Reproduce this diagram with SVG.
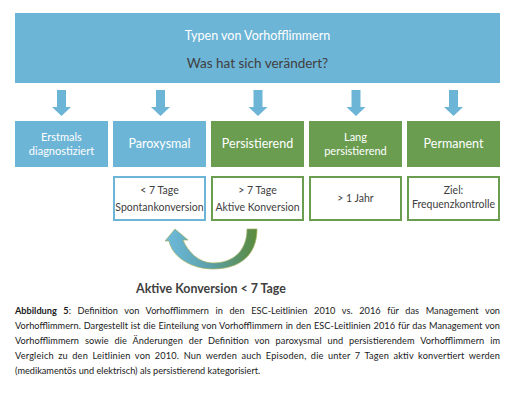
<svg xmlns="http://www.w3.org/2000/svg" width="513" height="400" viewBox="0 0 513 400">
<style>
.blue{fill:#6db5d6}
.green{fill:#6a9d50}
.wt{font-family:Lato,"Open Sans",sans-serif;fill:#ffffff;text-anchor:middle}
.dt{font-family:Lato,"Open Sans",sans-serif;fill:#404040;text-anchor:middle}
.bb{fill:#ffffff;stroke:#6db5d6;stroke-width:2}
.gb{fill:#ffffff;stroke:#6a9d50;stroke-width:2}
.cap{font-family:Lato,"Open Sans",sans-serif;font-size:9.2px;fill:#1a1a1a}
</style>
<defs>
<path id="dn" d="M-4.5,0 h9 v17 h5 l-9.5,9 l-9.5,-9 h5 z" fill="#6db5d6"/>
<linearGradient id="cg" x1="0" y1="0" x2="1" y2="0">
<stop offset="0" stop-color="#6dbbde"/>
<stop offset="0.5" stop-color="#5b9fa8"/>
<stop offset="1" stop-color="#5a8a3a"/>
</linearGradient>
</defs>
<rect width="513" height="400" fill="#ffffff"/>
<g id="header">
<rect class="blue" x="15" y="13" width="485" height="70"/>
<text class="wt" x="257.5" y="40" font-size="12.5">Typen von Vorhofflimmern</text>
<text class="dt" x="257.5" y="68" font-size="13.5">Was hat sich verändert?</text>
</g>
<g id="connectors">
<use href="#dn" x="61.5" y="90"/>
<use href="#dn" x="160.5" y="90"/>
<use href="#dn" x="258" y="90"/>
<use href="#dn" x="356" y="90"/>
<use href="#dn" x="453.5" y="90"/>
<path d="M257,229 C257,255 240,269 213,269 C190,269 172,256 169,241 L165,241 L175,229 L188,240 L183,240 C188,252 199,263 213,263 C232,263 247,252 247,229 Z" fill="url(#cg)" stroke="#a3b060" stroke-width="0.7"/>
</g>
<g id="erstmals">
<rect class="blue" x="15" y="121" width="93" height="46"/>
<text class="wt" x="61.5" y="141" font-size="11">Erstmals</text>
<text class="wt" x="61.5" y="155" font-size="11">diagnostiziert</text>
</g>
<g id="paroxysmal">
<rect class="blue" x="113" y="121" width="93" height="46"/>
<text class="wt" x="159.5" y="148" font-size="12.5">Paroxysmal</text>
</g>
<g id="persistierend">
<rect class="green" x="211" y="121" width="93" height="46"/>
<text class="wt" x="257.5" y="148" font-size="12.5">Persistierend</text>
</g>
<g id="lang">
<rect class="green" x="309" y="121" width="93" height="46"/>
<text class="wt" x="355.5" y="141" font-size="11">Lang</text>
<text class="wt" x="355.5" y="155" font-size="11">persistierend</text>
</g>
<g id="permanent">
<rect class="green" x="407" y="121" width="93" height="46"/>
<text class="wt" x="453.5" y="148" font-size="12.5">Permanent</text>
</g>
<g id="d1">
<rect class="bb" x="114" y="177" width="91" height="43"/>
<text class="dt" x="159.5" y="194" font-size="10.5">&lt; 7 Tage</text>
<text class="dt" x="159.5" y="211" font-size="10.5">Spontankonversion</text>
</g>
<g id="d2">
<rect class="gb" x="212" y="177" width="91" height="43"/>
<text class="dt" x="257.5" y="194" font-size="10.5">&gt; 7 Tage</text>
<text class="dt" x="257.5" y="211" font-size="10.5">Aktive Konversion</text>
</g>
<g id="d3">
<rect class="gb" x="310" y="177" width="91" height="43"/>
<text class="dt" x="355.5" y="202" font-size="10.5">&gt; 1 Jahr</text>
</g>
<g id="d4">
<rect class="gb" x="408" y="177" width="91" height="43"/>
<text class="dt" x="453.5" y="194" font-size="10.5">Ziel:</text>
<text class="dt" x="453.5" y="208" font-size="10.5">Frequenzkontrolle</text>
</g>
<g id="label">
<text class="dt" x="211" y="293" font-size="12.4" font-weight="bold">Aktive Konversion &lt; 7 Tage</text>
</g>
<g id="caption">
<text class="cap" x="15" y="314" word-spacing="4.3" textLength="485" lengthAdjust="spacing"><tspan font-weight="bold">Abbildung 5</tspan>: Definition von Vorhofflimmern in den ESC-Leitlinien 2010 vs. 2016 für das Management von</text>
<text class="cap" x="15" y="329" word-spacing="0.5" textLength="485" lengthAdjust="spacing">Vorhofflimmern. Dargestellt ist die Einteilung von Vorhofflimmern in den ESC-Leitlinien 2016 für das Management von</text>
<text class="cap" x="15" y="344" word-spacing="3.5" textLength="485" lengthAdjust="spacing">Vorhofflimmern sowie die Änderungen der Definition von paroxysmal und persistierendem Vorhofflimmern im</text>
<text class="cap" x="15" y="359" word-spacing="1.9" textLength="485" lengthAdjust="spacing">Vergleich zu den Leitlinien von 2010. Nun werden auch Episoden, die unter 7 Tagen aktiv konvertiert werden</text>
<text class="cap" x="15" y="374">(medikamentös und elektrisch) als persistierend kategorisiert.</text>
</g>
</svg>
